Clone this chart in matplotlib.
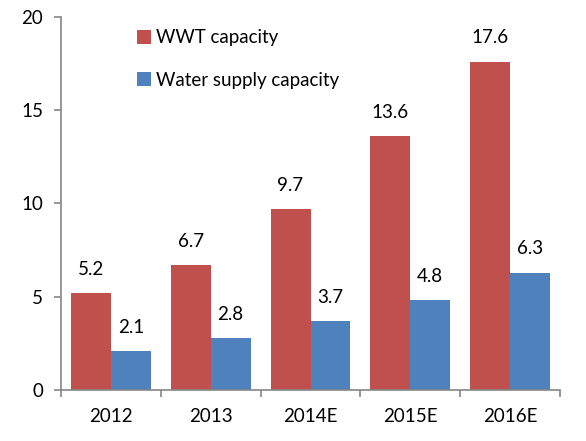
import matplotlib
matplotlib.use("Agg")
import matplotlib.pyplot as plt
import numpy as np

categories = ["2012", "2013", "2014E", "2015E", "2016E"]
wwt = [5.2, 6.7, 9.7, 13.6, 17.6]
water = [2.1, 2.8, 3.7, 4.8, 6.3]
yticks = [0, 5, 10, 15, 20]

plt.rcParams['font.family'] = ['Lato', 'DejaVu Sans']

W, H = 586, 441
fig = plt.figure(figsize=(W/100, H/100), dpi=100)
ax = fig.add_axes([61/W, 1 - 390/H, (560-61)/W, (390-17)/H])

red = "#C0504D"
blue = "#4F81BD"
fs = 13.5
x = np.arange(len(categories))
bw = 0.4
b1 = ax.bar(x - bw/2, wwt, bw, color=red, label="WWT capacity")
b2 = ax.bar(x + bw/2, water, bw, color=blue, label="Water supply capacity")

for rects, vals in ((b1, wwt), (b2, water)):
    for r, v in zip(rects, vals):
        ax.annotate(f"{v:.1f}", (r.get_x() + r.get_width()/2, v),
                    xytext=(0, 11), textcoords="offset points",
                    ha="center", va="bottom", fontsize=fs)

ax.set_xlim(-0.5, len(categories) - 0.5)
ax.set_ylim(0, 20)
ax.set_yticks(yticks)
ax.set_yticklabels([str(t) for t in yticks], fontsize=fs)
ax.set_xticks(x)
ax.set_xticklabels(categories, fontsize=fs)
ax.set_xticks(np.arange(-0.5, len(categories)), minor=True)
ax.tick_params(axis="x", which="major", length=0, pad=13)
ax.tick_params(axis="x", which="minor", length=5, color="#868686", width=1.2)
ax.tick_params(axis="y", length=5, color="#868686", width=1.2, pad=8)

for s in ("top", "right"):
    ax.spines[s].set_visible(False)
for s in ("left", "bottom"):
    ax.spines[s].set_color("#868686")
    ax.spines[s].set_linewidth(1.2)

leg = ax.legend(loc="upper left", bbox_to_anchor=(0.118, 1.012), frameon=False,
                fontsize=fs, handlelength=0.75, handleheight=0.75,
                handletextpad=0.3, labelspacing=1.35)

fig.savefig("out.png", dpi=100)
